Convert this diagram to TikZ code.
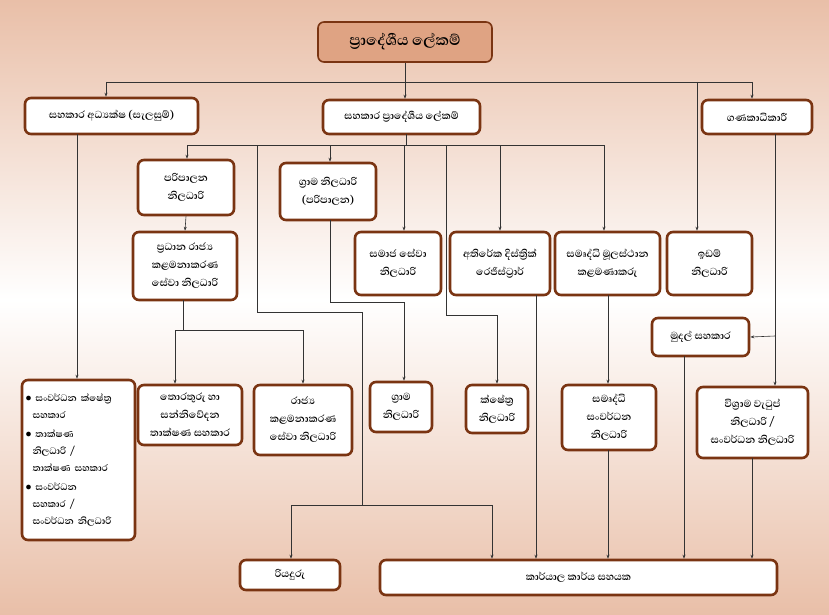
\documentclass[tikz,border=0pt]{standalone}
\usepackage{fontspec}
\newfontfamily\si[Script=Sinhala]{Abhaya Libre}
\usetikzlibrary{arrows.meta}
\definecolor{bord}{HTML}{7A3412}
\definecolor{bg}{HTML}{E9BFA8}
\definecolor{topf}{HTML}{DFA383}
\tikzset{
 box/.style={draw=bord,line width=2.6pt,rounded corners=6pt,fill=white,align=center,font=\si\fontsize{13}{18}\selectfont\bfseries,inner sep=2pt},
 ln/.style={draw=black!80,line width=0.6pt},
 ar/.style={ln,-{Stealth[length=4pt,width=3pt]}}
}
\begin{document}
\begin{tikzpicture}[x=1pt,y=-1pt]
\useasboundingbox (0,0) rectangle (829,615);
\shade[top color=bg,bottom color=white] (0,0) rectangle (829,300);
\shade[top color=white,bottom color=bg] (0,300) rectangle (829,615);
% nodes
\node[box,fill=topf,minimum width=174,minimum height=40,font=\si\fontsize{19}{20}\selectfont\bfseries,line width=1.6pt] (top) at (405,42) {ප්‍රාදේශීය ලේකම්};
\node[box,minimum width=173,minimum height=36] (A) at (111.5,116) {සහකාර අධ්‍යක්ෂ (සැලසුම්)};
\node[box,minimum width=157,minimum height=34] (B) at (401.5,117) {සහකාර ප්‍රාදේශීය ලේකම්};
\node[box,minimum width=110,minimum height=34] (C) at (757,117) {ගණකාධිකාරී};
\node[box,minimum width=96,minimum height=55] (P) at (186,187.5) {පරිපාලන\\නිලධාරි};
\node[box,minimum width=96,minimum height=57] (G) at (328,191.5) {ග්‍රාම නිලධාරි\\(පරිපාලන)};
\node[box,minimum width=104,minimum height=68] (PR) at (185,266) {ප්‍රධාන රාජ්‍ය\\කළමනාකරණ\\සේවා නිලධාරි};
\node[box,minimum width=86,minimum height=63] (SS) at (398,263.5) {සමාජ සේවා\\නිලධාරි};
\node[box,minimum width=100,minimum height=63] (AT) at (500,263.5) {අතිරේක දිස්ත්‍රික්\\රෙජිස්ට්‍රාර්};
\node[box,minimum width=105,minimum height=63] (SM) at (607.5,263.5) {සමෘද්ධි මූලස්ථාන\\කළමණාකරු};
\node[box,minimum width=85,minimum height=63] (ID) at (709.5,263.5) {ඉඩම්\\නිලධාරි};
\node[box,minimum width=97,minimum height=38] (MU) at (700.5,337) {මුදල් සහකාර};
\node[box,minimum width=113,minimum height=160,align=left,text width=106,font=\si\fontsize{12}{17}\selectfont\bfseries] (L) at (78.5,460) {$\bullet$ සංවර්ධන ක්ෂේත්‍ර\\\hspace*{7pt}සහකාර\\[2pt]$\bullet$ තාක්ෂණ\\\hspace*{7pt}නිලධාරි /\\\hspace*{7pt}තාක්ෂණ සහකාර\\[2pt]$\bullet$ සංවර්ධන\\\hspace*{7pt}සහකාර /\\\hspace*{7pt}සංවර්ධන නිලධාරි};
\node[box,minimum width=104,minimum height=60] (T) at (190,415) {තොරතුරු හා\\සන්නිවේදන\\තාක්ෂණ සහකාර};
\node[box,minimum width=98,minimum height=70] (R) at (303,420) {රාජ්‍ය\\කළමනාකරණ\\සේවා නිලධාරි};
\node[box,minimum width=62,minimum height=50] (GN) at (401,407) {ග්‍රාම\\නිලධාරි};
\node[box,minimum width=62,minimum height=48] (KS) at (497,409) {ක්ෂේත්‍ර\\නිලධාරි};
\node[box,minimum width=94,minimum height=65] (SD) at (609,417.5) {සමෘද්ධි\\සංවර්ධන\\නිලධාරි};
\node[box,minimum width=111,minimum height=71] (V) at (752.5,422.5) {විශ්‍රාම වැටුප්\\නිලධාරි /\\සංවර්ධන නිලධාරි};
\node[box,minimum width=100,minimum height=30] (RD) at (290,575) {රියදුරු};
\node[box,minimum width=397,minimum height=35] (K) at (578.5,577.5) {කාර්යාල කාර්ය සහයක};
% connectors
\draw[ln] (top.south) -- (405,82);
\draw[ln] (106,82) -- (752,82);
\draw[ar] (106,82) -- (106,82 |- A.north);
\draw[ar] (405,82) -- (405,82 |- B.north);
\draw[ar] (752,82) -- (752,82 |- C.north);
\draw[ar] (697,82) -- (697,82 |- ID.north);
\draw[ln] (406,134) -- (406,145);
\draw[ln] (187,145) -- (604,145);
\draw[ar] (187,145) -- (187,145 |- P.north);
\draw[ar] (330,145) -- (330,145 |- G.north);
\draw[ar] (404,145) -- (404,145 |- SS.north);
\draw[ar] (500,145) -- (500,145 |- AT.north);
\draw[ar] (604,145) -- (604,145 |- SM.north);
\draw[ln] (257,145) -- (257,312) -- (362,312) -- (362,505);
\draw[ln] (291,505) -- (492,505);
\draw[ar] (291,505) -- (291,505 |- RD.north);
\draw[ar] (492,505) -- (492,505 |- K.north);
\draw[ar] (446,145) -- (446,315) -- (497,315) -- (KS.north);
\draw[ar] (P.south) -- (PR.north);
\draw[ar] (330,220) -- (330,302) -- (404,302) -- (404,302 |- GN.north);
\draw[ar] (536,295) -- (536,295 |- K.north);
\draw[ar] (608,295) -- (608,295 |- SD.north);
\draw[ar] (608,450) -- (608,450 |- K.north);
\draw[ar] (775,134) -- (775,134 |- V.north);
\draw[ar] (775,336) -- (MU.east);
\draw[ar] (684,356) -- (684,356 |- K.north);
\draw[ar] (752,458) -- (752,458 |- K.north);
\draw[ar] (77,134) -- (77,134 |- L.north);
\draw[ln] (183,300) -- (183,330);
\draw[ln] (175,330) -- (303,330);
\draw[ar] (175,330) -- (175,330 |- T.north);
\draw[ar] (303,330) -- (303,330 |- R.north);
\end{tikzpicture}
\end{document}
